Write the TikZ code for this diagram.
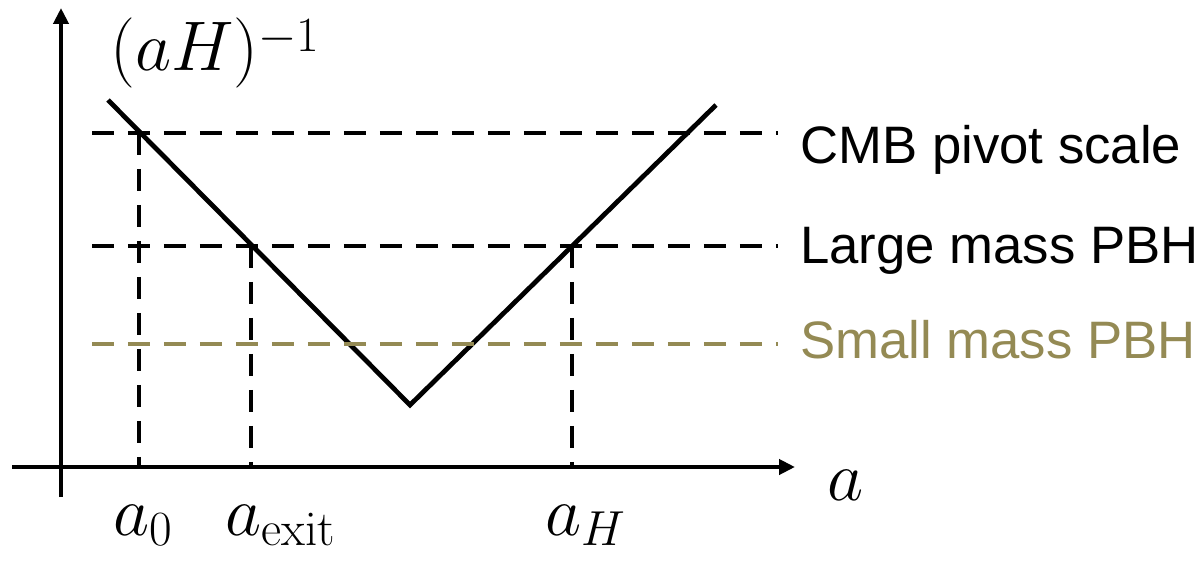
\RequirePackage{fix-cm}
\documentclass[tikz,border=0pt]{standalone}
\usepackage{amsmath}
\usepackage[no-math]{fontspec}
\setmainfont{Liberation Sans}
\usetikzlibrary{positioning, arrows.meta, calc}

\definecolor{pbhtan}{HTML}{948A54}

\begin{document}
\begin{tikzpicture}[x=0.02cm, y=0.02cm,
        axis/.style={line width=2.7pt, -{Triangle[length=0.32cm, width=0.3cm]}},
        level/.style={line width=2.5pt, dash pattern=on 0.44cm off 0.28cm},
        curve/.style={line width=2.7pt, line join=miter},
        textlabel/.style={font=\fontsize{30}{36}\selectfont, inner sep=0pt, anchor=base west},
        mathlabel/.style={font=\fontsize{40}{48}\selectfont, inner sep=0pt, anchor=base west}]
    \useasboundingbox (0,0) rectangle (1204,566);

    % Axes
    \coordinate (yfoot) at (61, 69);
    \coordinate (ytip) at (61, 558);
    \coordinate (xfoot) at (12, 99);
    \coordinate (xtip) at (795, 99);
    \draw[axis] (yfoot) -- (ytip);
    \draw[axis] (xfoot) -- (xtip);

    \node (ylabel) at (110, 496) [mathlabel] {$(aH)^{\raisebox{-4pt}{$\scriptstyle -1$}}$};
    \node (xlabel) at (827, 66) [mathlabel] {$a$};

    % Comoving Hubble radius
    \coordinate (vleft) at (108, 466);
    \coordinate (vbottom) at (410, 161);
    \coordinate (vright) at (716, 461);
    \draw[curve] (vleft) -- (vbottom) -- (vright);

    % Scales
    \node (cmb) at (800, 403) [textlabel] {CMB pivot scale};
    \node (large) at (800, 303) [textlabel] {Large mass PBH};
    \node (small) at (800, 208) [textlabel, text=pbhtan] {Small mass PBH};

    \coordinate (cmbstart) at (92, 433);
    \coordinate (largestart) at (92, 320);
    \coordinate (smallstart) at (92, 222);
    \draw[level, shorten >=0.44cm] (cmbstart) -- (cmbstart -| cmb.west);
    \draw[level, shorten >=0.44cm] (largestart) -- (largestart -| large.west);
    \draw[level, shorten >=0.44cm, pbhtan] (smallstart) -- (smallstart -| small.west);

    % Horizon crossings
    \coordinate (azero) at (139, 433);
    \coordinate (aexit) at (251, 320);
    \coordinate (ahub) at (572, 320);
    \draw[level] (azero) -- (azero |- xfoot);
    \draw[level] (aexit) -- (aexit |- xfoot);
    \draw[level] (ahub) -- (ahub |- xfoot);

    \node (azerolabel) at (113, 31) [mathlabel] {$a_0$};
    \node (aexitlabel) at (225, 31) [mathlabel] {$a_{\mathrm{exit}}$};
    \node (ahublabel) at (545, 31) [mathlabel] {$a_H$};

\end{tikzpicture}
\end{document}
